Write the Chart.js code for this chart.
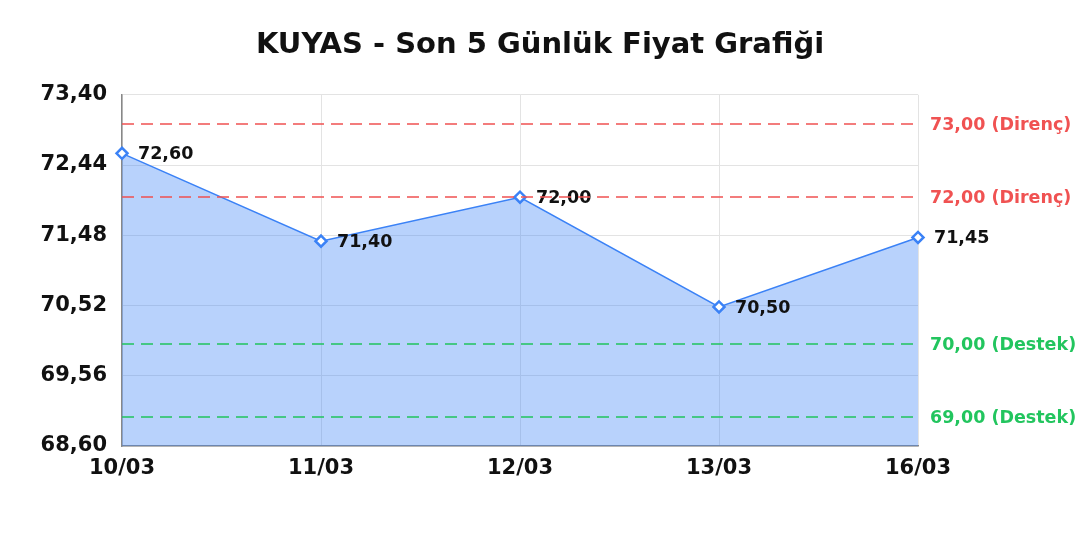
<!DOCTYPE html>
<html>
<head>
<meta charset="utf-8">
<title>KUYAS - Son 5 Günlük Fiyat Grafiği</title>
<script src="https://cdn.jsdelivr.net/npm/chart.js@4/dist/chart.umd.min.js"></script>
<style>
  html, body { margin: 0; padding: 0; background: #ffffff; }
  #wrap { width: 1080px; height: 540px; }
</style>
</head>
<body>
<div id="wrap"><canvas id="priceChart"></canvas></div>
<script>
// Data
const dates = ['10/03', '11/03', '12/03', '13/03', '16/03'];
const prices = [72.60, 71.40, 72.00, 70.50, 71.45];
const resistanceLevels = [73.00, 72.00];
const supportLevels = [70.00, 69.00];
const yMin = 68.60;
const yMax = 73.40;
const yStep = 0.96;

const FONT = "'DejaVu Sans', sans-serif";

function trNum(v) {
    return v.toFixed(2).replace('.', ',');
}

// Draws value labels next to each point, then the support / resistance lines on top
const levelsPlugin = {
    id: 'levels',
    afterDraw(chart) {
        const ctx = chart.ctx;
        const area = chart.chartArea;
        const yScale = chart.scales.y;
        const meta = chart.getDatasetMeta(0);

        ctx.save();
        ctx.font = 'bold 17.5px ' + FONT;
        ctx.fillStyle = '#111111';
        ctx.textAlign = 'left';
        ctx.textBaseline = 'middle';
        meta.data.forEach((pt, i) => {
            ctx.fillText(trNum(prices[i]), pt.x + 16, pt.y + 1);
        });

        const drawLevel = (value, color, tag) => {
            const y = Math.round(yScale.getPixelForValue(value));
            ctx.strokeStyle = color;
            ctx.lineWidth = 1.5;
            ctx.setLineDash([12, 7]);
            ctx.beginPath();
            ctx.moveTo(area.left, y);
            ctx.lineTo(area.right, y);
            ctx.stroke();
            ctx.setLineDash([]);
            ctx.fillStyle = color;
            ctx.font = 'bold 17.5px ' + FONT;
            ctx.textBaseline = 'middle';
            ctx.fillText(trNum(value) + ' (' + tag + ')', area.right + 12, y + 1);
        };
        resistanceLevels.forEach(v => drawLevel(v, '#f05252', 'Direnç'));
        supportLevels.forEach(v => drawLevel(v, '#22c55e', 'Destek'));
        ctx.restore();
    }
};

const ctx = document.getElementById('priceChart').getContext('2d');

const priceChart = new Chart(ctx, {
    type: 'line',
    data: {
        labels: dates,
        datasets: [{
            label: 'Fiyat',
            data: prices,
            borderColor: '#3b82f6',
            borderWidth: 1.5,
            backgroundColor: 'rgba(59, 130, 246, 0.36)',
            fill: 'start',
            tension: 0,
            pointStyle: 'rectRot',
            pointRadius: 5.5,
            pointBorderWidth: 2.5,
            pointBackgroundColor: '#ffffff',
            pointBorderColor: '#3b82f6'
        }]
    },
    options: {
        responsive: true,
        maintainAspectRatio: false,
        animation: false,
        layout: {
            padding: { left: 0, right: 0, top: 0, bottom: 54 }
        },
        plugins: {
            legend: { display: false },
            tooltip: { enabled: false },
            title: {
                display: true,
                text: 'KUYAS - Son 5 Günlük Fiyat Grafiği',
                color: '#111111',
                font: { family: FONT, size: 29, weight: 'bold' },
                padding: { top: 28, bottom: 32 }
            }
        },
        scales: {
            x: {
                offset: false,
                grid: { color: '#e3e3e3', drawTicks: false },
                border: { color: '#888888', width: 1.5 },
                ticks: {
                    color: '#111111',
                    padding: 10,
                    maxRotation: 0,
                    font: { family: FONT, size: 21, weight: 'bold' }
                },
                afterFit(scale) { scale.height = 40; }
            },
            y: {
                min: yMin,
                max: yMax,
                grid: { color: '#e3e3e3', drawTicks: false },
                border: { color: '#888888', width: 1.5 },
                ticks: {
                    stepSize: yStep,
                    color: '#111111',
                    padding: 15,
                    font: { family: FONT, size: 21, weight: 'bold' },
                    callback: value => trNum(value)
                },
                afterFit(scale) { scale.width = 122; }
            },
            // empty right-hand axis that reserves room for the level labels
            yLabels: {
                position: 'right',
                min: yMin,
                max: yMax,
                grid: { display: false, drawTicks: false },
                border: { display: false },
                ticks: { display: false },
                afterFit(scale) { scale.width = 162; }
            }
        }
    },
    plugins: [levelsPlugin]
});
</script>
</body>
</html>
